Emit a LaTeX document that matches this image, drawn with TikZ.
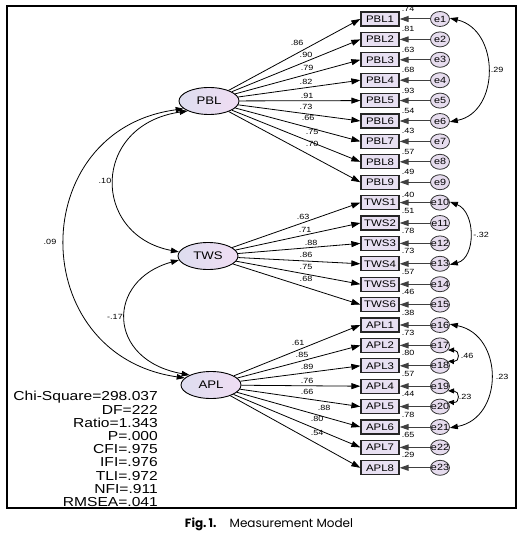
\documentclass[tikz,border=0pt]{standalone}
\usepackage{fontspec}
\setmainfont{Liberation Sans}
\newfontfamily\amos[FakeStretch=1.2]{Liberation Sans}
\newfontfamily\capfont{Poppins}
\usetikzlibrary{arrows.meta,shapes.geometric}
\definecolor{boxfill}{HTML}{E8E0F2}
\definecolor{errfill}{HTML}{E6DCEE}
\definecolor{latL}{HTML}{DDDDEF}
\definecolor{latR}{HTML}{F0DDF3}
\begin{document}
\begin{tikzpicture}[x=1pt,y=-1pt,
  box/.style={draw=black!85,line width=1.3pt,fill=boxfill,minimum width=38pt,minimum height=14pt,inner sep=0pt,font=\amos\fontsize{9.5}{10}\selectfont},
  err/.style={ellipse,draw=black!80,line width=0.8pt,fill=errfill,minimum width=19pt,minimum height=15pt,inner sep=0pt,font=\amos\fontsize{9}{10}\selectfont},
  lat/.style={ellipse,draw=black,line width=0.9pt,left color=latL,right color=latR,minimum width=60pt,minimum height=27pt,inner sep=0pt,font=\amos\fontsize{11}{12}\selectfont},
  lbl/.style={inner sep=0pt,font=\amos\fontsize{7.5}{8}\selectfont},
  fit/.style={anchor=east,inner sep=0pt,font=\amos\fontsize{13}{13}\selectfont},
  load/.style={-{Triangle[length=9pt,width=6pt]},line width=0.8pt},
  cov/.style={{Triangle[length=8pt,width=5.5pt]}-{Triangle[length=8pt,width=5.5pt]},line width=0.8pt},
  covs/.style={{Triangle[length=6pt,width=5pt]}-{Triangle[length=6pt,width=5pt]},line width=0.8pt},
  errarr/.style={-{Triangle[length=9pt,width=6pt]},line width=1pt,draw=black!75,fill=black}]
\useasboundingbox (0,0) rectangle (525,537);
\draw[line width=2pt] (7,6) rectangle (516,508);

% latent variables
\node[lat] (PBL) at (209,101) {PBL};
\node[lat] (TWS) at (208,256) {TWS};
\node[lat] (APL) at (211,385) {APL};

% observed variables, errors and R2
\foreach \n/\r [count=\j] in {PBL1/.74,PBL2/.81,PBL3/.63,PBL4/.68,PBL5/.93,PBL6/.54,PBL7/.43,PBL8/.57,PBL9/.49,
  TWS1/.40,TWS2/.51,TWS3/.78,TWS4/.73,TWS5/.57,TWS6/.46,
  APL1/.38,APL2/.73,APL3/.80,APL4/.57,APL5/.44,APL6/.78,APL7/.65,APL8/.29}{
  \pgfmathsetmacro\yy{19+20.4*(\j-1)}
  \ifnum\j<10 \def\off{-10}\else\ifnum\j=10 \def\off{-8}\else\def\off{-12.5}\fi\fi
  \pgfmathsetmacro\ry{\yy+\off}
  \node[box] (\n) at (380,\yy) {\n};
  \node[err] (e\j) at (440,\yy) {\makebox[0pt]{e\j}};
  \draw[errarr] (e\j) -- (\n);
  \node[lbl] (r\j) at (408,\ry) {\r};
}

% loadings
\foreach \k in {1,...,9} \draw[load] (PBL) -- (PBL\k.west);
\foreach \k in {1,...,6} \draw[load] (TWS) -- (TWS\k.west);
\foreach \k in {1,...,8} \draw[load] (APL) -- (APL\k.west);

\foreach \v/\x/\y [count=\q] in {.86/297/43,.90/306/55,.79/307/68,.82/306/82,.91/307/96,.73/306/107,.66/308/118,.75/312/132,.70/312/144,
  .63/303/217,.71/305/230,.88/311/243,.86/306/255,.75/306/267,.68/306/279,
  .61/298/343,.85/302/355,.89/307/367,.76/307/381,.66/307/392,.88/324/408,.80/317/419,.54/317/433}
  \node[lbl] (ld\q) at (\x,\y) {\v};

% covariances between latent variables
\draw[cov] (PBL.197) .. controls (25,130) and (25,355) .. (APL.165);
\node[lbl] (c1) at (50,242) {.09};
\draw[cov] (PBL.205) .. controls (91,125) and (91,235) .. (TWS.172);
\node[lbl] (c2) at (105,181) {.10};
\draw[cov] (TWS.188) .. controls (106,280) and (106,360) .. (APL.155);
\node[lbl] (c3) at (115,317) {-.17};

% error covariances
\draw[cov] (e1.5) .. controls (500,30) and (500,112) .. (e6.-5);
\node[lbl] (c4) at (497,70) {.29};
\draw[cov] (e10.5) .. controls (476,212) and (476,258) .. (e13.-5);
\node[lbl] (c5) at (481,235) {-.32};
\draw[cov] (e16.5) .. controls (504,335) and (504,418) .. (e21.-5);
\node[lbl] (c6) at (502,377) {.23};
\draw[covs] (e17.-30) .. controls (460,350) and (460,362) .. (e18.30);
\node[lbl] (c7) at (467,356) {.46};
\draw[covs] (e19.-30) .. controls (460,391) and (460,403) .. (e20.30);
\node[lbl] (c8) at (465,397) {.23};

% fit indices
\foreach \t [count=\m] in {Chi-Square=298.037,DF=222,Ratio=1.343,P=.000,CFI=.975,IFI=.976,TLI=.972,NFI=.911,RMSEA=.041}{
  \pgfmathsetmacro\fy{397+13.1*(\m-1)}
  \node[fit] (fit\m) at (158,\fy) {\t};
}

% caption
\node[font=\capfont\fontsize{12}{13}\selectfont,inner sep=0pt] (cap) at (269,524) {{\bfseries Fig.\,1.}\hspace{1.1em}Measurement Model};
\end{tikzpicture}
\end{document}
